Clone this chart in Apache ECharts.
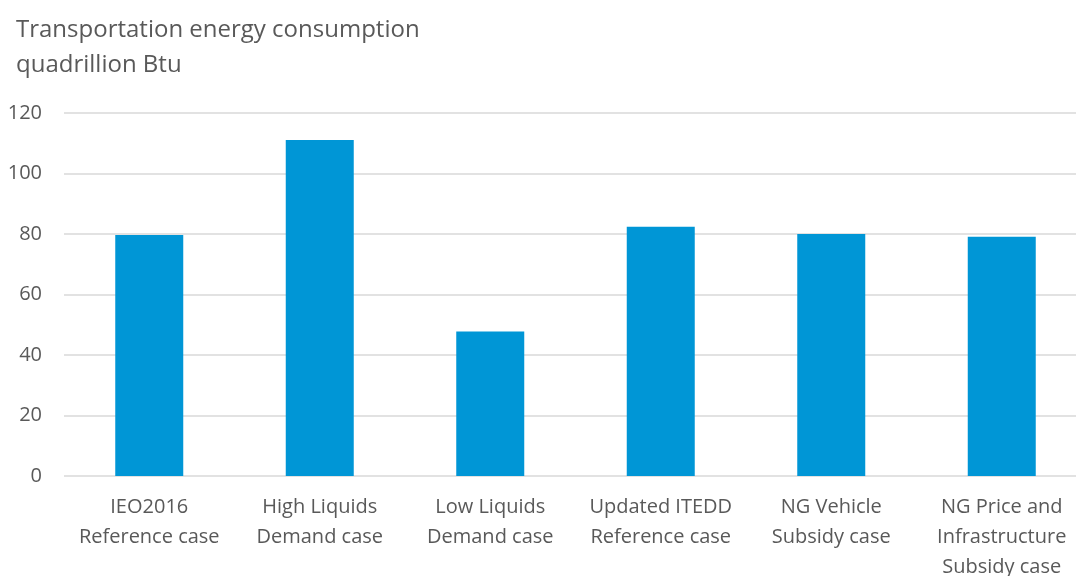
<!DOCTYPE html>
<html>
<head>
<meta charset="utf-8">
<script src="https://cdn.jsdelivr.net/npm/echarts@6/dist/echarts.min.js"></script>
<style>
  html, body { margin: 0; padding: 0; background: #fff; }
  #chart { width: 1076px; height: 576px; }
</style>
</head>
<body>
<div id="chart"></div>
<script>
// categories (x axis)
const categories = [
  'IEO2016\nReference case',
  'High Liquids\nDemand case',
  'Low Liquids\nDemand case',
  'Updated ITEDD\nReference case',
  'NG Vehicle\nSubsidy case',
  'NG Price and\nInfrastructure\nSubsidy case'
]
// transportation energy consumption, quadrillion Btu
const consumption = [79.7, 111.1, 47.8, 82.4, 80.0, 79.1]
const yTicks = { min: 0, max: 120, interval: 20 }

const textColor = '#595959'
const font = 'Open Sans'

const chart = echarts.init(document.getElementById('chart'))
chart.setOption({
  animation: false,
  /* title, two lines */
  title: {
    text: 'Transportation energy consumption\nquadrillion Btu',
    left: 11,
    top: 8,
    textStyle: {
      fontFamily: font,
      fontSize: 24,
      fontWeight: 'normal',
      color: textColor,
      lineHeight: 35
    }
  },
  grid: {
    left: 64,
    width: 1023,
    top: 113,
    bottom: 100,
    outerBoundsMode: 'none' // 不自动收缩 grid
  },
  xAxis: {
    type: 'category',
    data: categories,
    axisLine: { show: false },
    axisTick: { show: false },
    axisLabel: {
      interval: 0,
      margin: 16,
      fontFamily: font,
      fontSize: 20,
      color: textColor,
      lineHeight: 30
    }
  },
  yAxis: {
    type: 'value',
    min: yTicks.min,
    max: yTicks.max,
    interval: yTicks.interval,
    axisLine: { show: false },
    axisTick: { show: false },
    splitLine: { lineStyle: { color: '#d9d9d9', width: 1.5 } },
    axisLabel: {
      margin: 22,
      fontFamily: font,
      fontSize: 20,
      color: textColor
    }
  },
  series: [
    {
      type: 'bar',
      data: consumption,
      barWidth: 68,
      itemStyle: { color: '#0096d6' }
    }
  ]
})
</script>
</body>
</html>
